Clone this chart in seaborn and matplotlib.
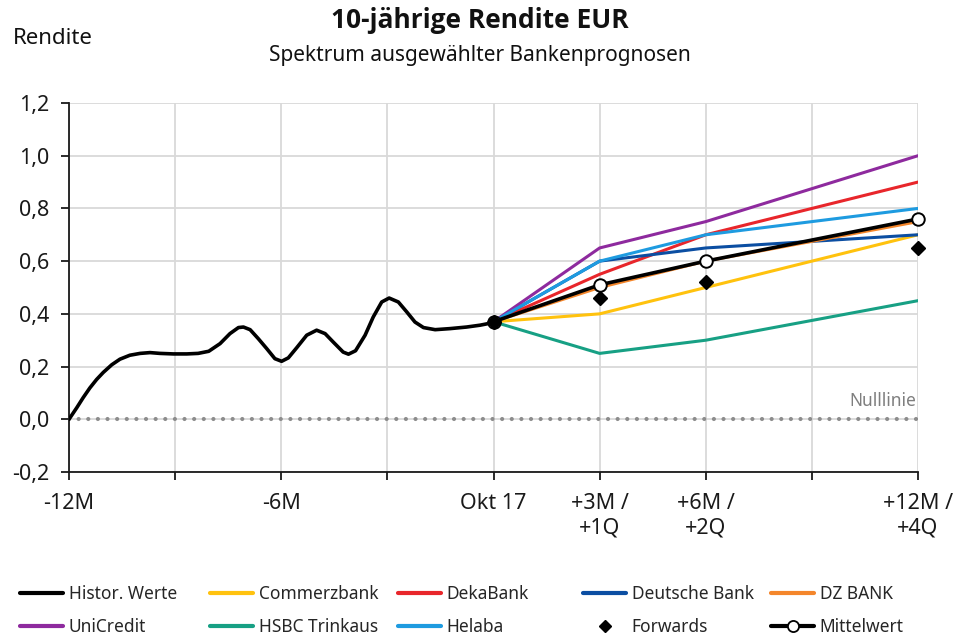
import matplotlib
matplotlib.use("Agg")
import matplotlib.pyplot as plt
from matplotlib.lines import Line2D
import seaborn as sns

# ---------------- data ----------------
hist_m = [-12, -11.78, -11.6, -11.41, -11.22, -11.03, -10.79, -10.56, -10.28, -9.99,
          -9.71, -9.43, -9.05, -8.67, -8.35, -8.05, -7.73, -7.45, -7.21, -7.07,
          -6.88, -6.65, -6.41, -6.18, -5.99, -5.80, -5.56, -5.28, -5.0, -4.76,
          -4.53, -4.25, -4.1, -3.9, -3.63, -3.40, -3.16, -2.95, -2.69, -2.45,
          -2.22, -1.98, -1.65, -1.23, -0.76, -0.38, 0]
hist_v = [0.0, 0.044, 0.082, 0.119, 0.151, 0.178, 0.207, 0.228, 0.243, 0.250,
          0.253, 0.250, 0.248, 0.248, 0.250, 0.258, 0.287, 0.325, 0.348, 0.350,
          0.340, 0.306, 0.268, 0.230, 0.220, 0.233, 0.272, 0.319, 0.338, 0.325,
          0.293, 0.255, 0.247, 0.260, 0.319, 0.388, 0.445, 0.460, 0.445, 0.407,
          0.369, 0.348, 0.340, 0.344, 0.350, 0.357, 0.367]

fc_m = [0, 3, 6, 12]
commerzbank = [0.37, 0.40, 0.50, 0.70]
dekabank = [0.37, 0.55, 0.70, 0.90]
deutsche_bank = [0.37, 0.60, 0.65, 0.70]
dz_bank = [0.37, 0.50, 0.60, 0.75]
unicredit = [0.37, 0.65, 0.75, 1.00]
hsbc = [0.37, 0.25, 0.30, 0.45]
helaba = [0.37, 0.60, 0.70, 0.80]
forwards = [0.37, 0.46, 0.52, 0.65]
mittelwert = [0.37, 0.51, 0.60, 0.76]

x_ticks = [-12, -9, -6, -3, 0, 3, 6, 9, 12]
x_labels = ["-12M", "", "-6M", "", "Okt 17", "+3M /\n+1Q", "+6M /\n+2Q", "", "+12M /\n+4Q"]
y_ticks = [-0.2, 0.0, 0.2, 0.4, 0.6, 0.8, 1.0, 1.2]
y_labels = ["-0,2", "0,0", "0,2", "0,4", "0,6", "0,8", "1,0", "1,2"]

# ---------------- style ----------------
sns.set_theme(style="white")
plt.rcParams['font.family'] = ['Noto Sans', 'DejaVu Sans']

colors = {
    "Histor. Werte": "#000000",
    "Commerzbank": "#FFC20E",
    "DekaBank": "#E8262B",
    "Deutsche Bank": "#0B4EA2",
    "DZ BANK": "#F4862B",
    "UniCredit": "#8E2A9E",
    "HSBC Trinkaus": "#17A084",
    "Helaba": "#1E9BE0",
}

fig = plt.figure(figsize=(9.59, 6.34), dpi=100)
ax = fig.add_axes([69 / 959, 1 - 472 / 634, (918 - 69) / 959, (472 - 103) / 634])

ax.set_xlim(-12, 12)
ax.set_ylim(-0.2, 1.2)

# grid
for xt in x_ticks:
    ax.axvline(xt, color="#d9d9d9", lw=1.3, zorder=0)
for yt in y_ticks:
    ax.axhline(yt, color="#d9d9d9", lw=1.3, zorder=0)

# zero line
ax.plot([-12, 12], [0, 0], color="#8c8c8c", lw=3.0,
        linestyle=(0, (0.01, 2.3)), dash_capstyle="round", zorder=1)
ax.text(11.95, 0.035, "Nulllinie", color="#7f7f7f", fontsize=12.5,
        ha="right", va="bottom")

lw = 2.2
series = [
    ("Commerzbank", commerzbank),
    ("DekaBank", dekabank),
    ("Deutsche Bank", deutsche_bank),
    ("DZ BANK", dz_bank),
    ("UniCredit", unicredit),
    ("HSBC Trinkaus", hsbc),
    ("Helaba", helaba),
]
for name, vals in series:
    sns.lineplot(x=fc_m, y=vals, ax=ax, color=colors[name], lw=lw,
                 estimator=None, sort=False, zorder=3)

sns.lineplot(x=hist_m, y=hist_v, ax=ax, color="black", lw=2.6,
             estimator=None, sort=False, zorder=4)
ax.lines[-1].set_solid_joinstyle("round")
ax.lines[-1].set_solid_capstyle("round")

sns.lineplot(x=fc_m, y=mittelwert, ax=ax, color="black", lw=2.6,
             estimator=None, sort=False, zorder=5)
ax.plot(fc_m, mittelwert, linestyle="none", marker="o", markersize=9,
        markerfacecolor="white", markeredgecolor="black", markeredgewidth=1.4,
        zorder=6, clip_on=False)
ax.plot(fc_m, forwards, linestyle="none", marker="D", markersize=7.5,
        color="black", zorder=7, clip_on=False)

# axes
for s in ["top", "right"]:
    ax.spines[s].set_visible(False)
for s in ["left", "bottom"]:
    ax.spines[s].set_color("#1a1a1a")
    ax.spines[s].set_linewidth(1.3)
ax.set_xticks(x_ticks)
ax.set_xticklabels(x_labels, fontsize=15.5, color="#1a1a1a", linespacing=1.2)
ax.set_yticks(y_ticks)
ax.set_yticklabels(y_labels, fontsize=15.5, color="#1a1a1a")
ax.tick_params(axis="both", which="both", direction="out", length=6,
               width=1.3, color="#1a1a1a", bottom=True, left=True)
ax.tick_params(axis="y", pad=8)
ax.tick_params(axis="x", pad=9)
ax.set_xlabel("")
ax.set_ylabel("")

# titles
fig.text(0.5, 1 - 20 / 634, "10-jährige Rendite EUR", ha="center", va="center",
         fontsize=19, fontweight="bold", color="#111111",
         family=["Open Sans", "DejaVu Sans"])
fig.text(0.5, 1 - 55 / 634, "Spektrum ausgewählter Bankenprognosen", ha="center",
         va="center", fontsize=15, color="#111111")
fig.text(13 / 959, 1 - 39 / 634, "Rendite", ha="left", va="center",
         fontsize=16, color="#111111")

# legend (five columns placed individually)
def line_handle(name):
    return Line2D([], [], color=colors[name], lw=3.0)

h_forw = Line2D([], [], color="black", linestyle="none", marker="D", markersize=6)
h_mean = Line2D([], [], color="black", lw=3.0, marker="o", markersize=8,
                markerfacecolor="white", markeredgecolor="black", markeredgewidth=1.3)

columns = [
    (20, [line_handle("Histor. Werte"), line_handle("UniCredit")], ["Histor. Werte", "UniCredit"]),
    (210, [line_handle("Commerzbank"), line_handle("HSBC Trinkaus")], ["Commerzbank", "HSBC Trinkaus"]),
    (398, [line_handle("DekaBank"), line_handle("Helaba")], ["DekaBank", "Helaba"]),
    (583, [line_handle("Deutsche Bank"), h_forw], ["Deutsche Bank", "Forwards"]),
    (771, [line_handle("DZ BANK"), h_mean], ["DZ BANK", "Mittelwert"]),
]
for xpix, hs, ls in columns:
    fig.legend(hs, ls, loc="upper left", bbox_to_anchor=(xpix / 959, 1 - 585 / 634),
               frameon=False, fontsize=12.5, handlelength=2.5, handletextpad=0.3,
               borderpad=0, borderaxespad=0, labelspacing=0.85)

fig.savefig("out.png", dpi=100)
